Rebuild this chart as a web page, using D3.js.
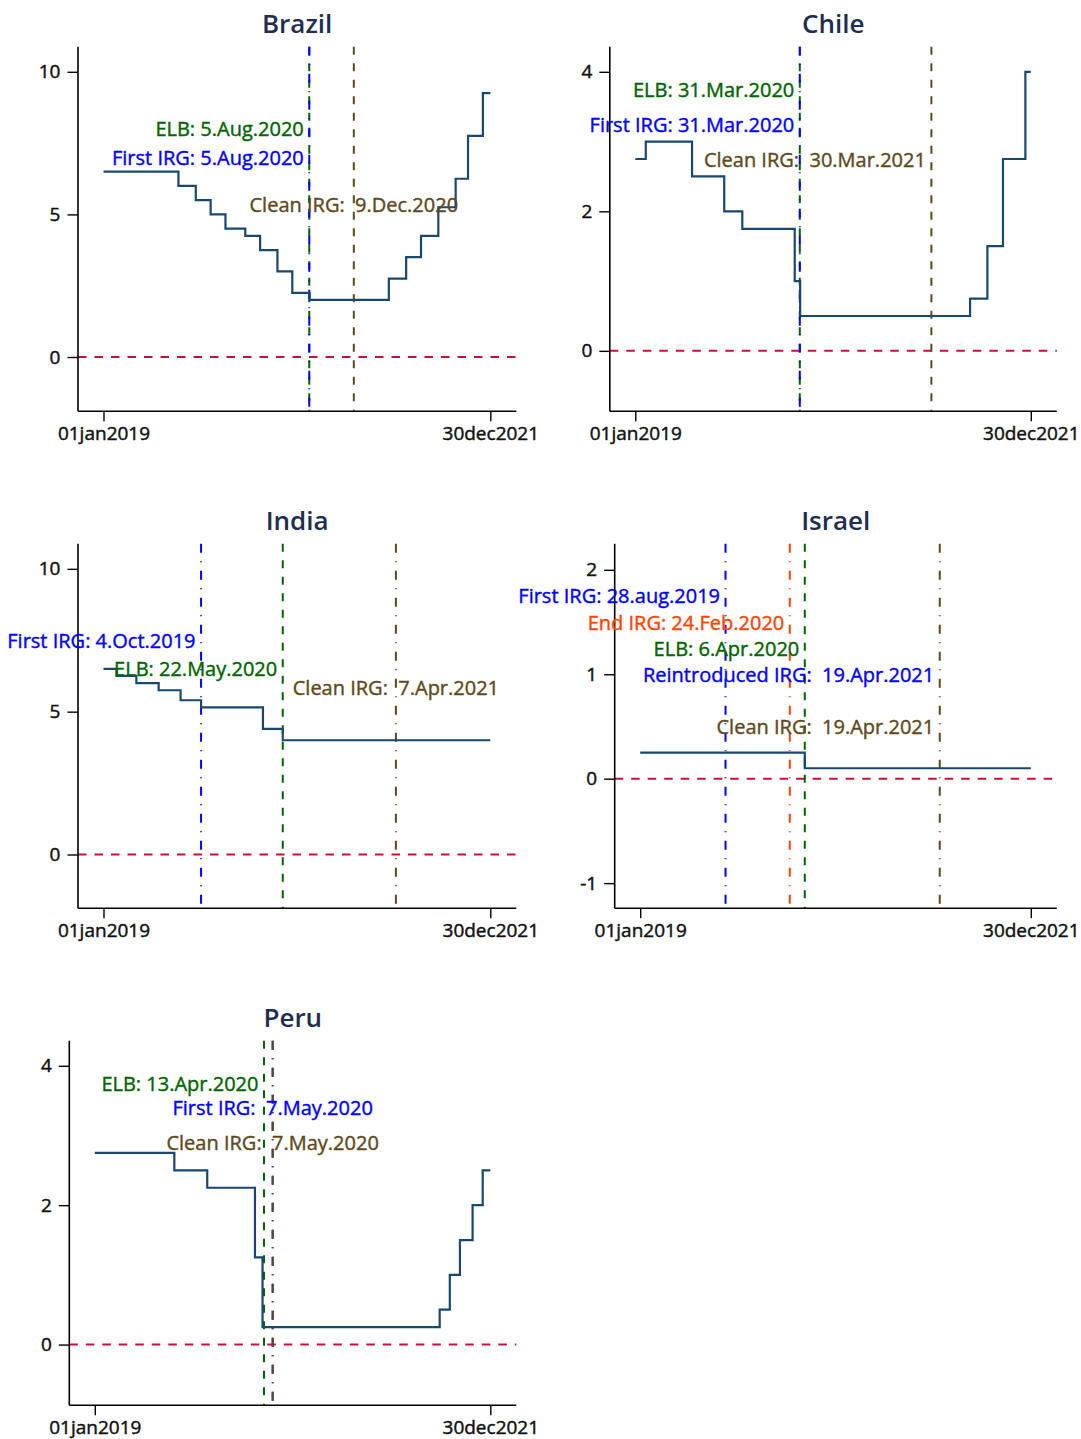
<!DOCTYPE html>
<html>
<head>
<meta charset="utf-8">
<script src="https://cdn.jsdelivr.net/npm/d3@7"></script>
<style>
  body { margin: 0; background: #ffffff; }
  svg { display: block; }
  text { font-family: 'Open Sans', sans-serif; }
</style>
</head>
<body>
<script>
// ---- data ----
const countries = ['Brazil', 'Chile', 'India', 'Israel', 'Peru'];
const xTickDates = ['2019-01-01', '2021-12-30'];
const xTickLabels = ['01jan2019', '30dec2021'];

// policy rates, one point per rate change (step series)
const brazilRate = [
  ['2019-01-01', 6.5], ['2019-08-01', 6.0], ['2019-09-19', 5.5], ['2019-10-31', 5.0],
  ['2019-12-12', 4.5], ['2020-02-06', 4.25], ['2020-03-19', 3.75], ['2020-05-07', 3.0],
  ['2020-06-18', 2.25], ['2020-08-06', 2.0], ['2021-03-18', 2.75], ['2021-05-06', 3.5],
  ['2021-06-17', 4.25], ['2021-08-05', 5.25], ['2021-09-23', 6.25], ['2021-10-28', 7.75],
  ['2021-12-09', 9.25], ['2021-12-30', 9.25],
];
const chileRate = [
  ['2019-01-01', 2.75], ['2019-01-30', 3.0], ['2019-06-07', 2.5], ['2019-09-04', 2.0],
  ['2019-10-24', 1.75], ['2020-03-17', 1.0], ['2020-04-01', 0.5], ['2021-07-15', 0.75],
  ['2021-09-01', 1.5], ['2021-10-14', 2.75], ['2021-12-15', 4.0], ['2021-12-30', 4.0],
];
const indiaRate = [
  ['2019-01-01', 6.5], ['2019-02-07', 6.25], ['2019-04-04', 6.0], ['2019-06-06', 5.75],
  ['2019-08-07', 5.4], ['2019-10-04', 5.15], ['2020-03-27', 4.4], ['2020-05-22', 4.0],
  ['2021-12-30', 4.0],
];
const israelRate = [
  ['2019-01-01', 0.25], ['2020-04-06', 0.1], ['2021-12-30', 0.1],
];
const peruRate = [
  ['2019-01-01', 2.75], ['2019-08-09', 2.5], ['2019-11-08', 2.25], ['2020-03-19', 1.25],
  ['2020-04-09', 0.25], ['2021-08-12', 0.5], ['2021-09-09', 1.0], ['2021-10-07', 1.5],
  ['2021-11-11', 2.0], ['2021-12-09', 2.5], ['2021-12-30', 2.5],
];

// y axes
const brazilYDomain = [-1.9, 10.88];
const chileYDomain = [-0.865, 4.36];
const indiaYDomain = [-1.88, 10.88];
const israelYDomain = [-1.24, 2.25];
const peruYDomain = [-0.87, 4.36];
const brazilYTicks = [0, 5, 10];
const chileYTicks = [0, 2, 4];
const indiaYTicks = [0, 5, 10];
const israelYTicks = [-1, 0, 1, 2];
const peruYTicks = [0, 2, 4];

// event dates (vertical lines) with their annotation text; y is in data units
const brazilEvents = [
  { kind: 'elb', date: '2020-08-05', text: 'ELB: 5.Aug.2020', y: 8, anchor: 'end' },
  { kind: 'first', date: '2020-08-05', text: 'First IRG: 5.Aug.2020', y: 7, anchor: 'end' },
  { kind: 'clean', date: '2020-12-09', text: 'Clean IRG:  9.Dec.2020', y: 5.35, anchor: 'middle' },
];
const chileEvents = [
  { kind: 'elb', date: '2020-03-31', text: 'ELB: 31.Mar.2020', y: 3.75, anchor: 'end' },
  { kind: 'first', date: '2020-03-31', text: 'First IRG: 31.Mar.2020', y: 3.25, anchor: 'end' },
  { kind: 'clean', date: '2021-03-30', text: 'Clean IRG:  30.Mar.2021', y: 2.75, anchor: 'end' },
];
const indiaEvents = [
  { kind: 'elb', date: '2020-05-22', text: 'ELB: 22.May.2020', y: 6.5, anchor: 'end' },
  { kind: 'first', date: '2019-10-04', text: 'First IRG: 4.Oct.2019', y: 7.5, anchor: 'end' },
  { kind: 'clean', date: '2021-04-07', text: 'Clean IRG:  7.Apr.2021', y: 5.85, anchor: 'middle' },
];
const israelEvents = [
  { kind: 'elb', date: '2020-04-06', text: 'ELB: 6.Apr.2020', y: 1.25, anchor: 'end' },
  { kind: 'first', date: '2019-08-28', text: 'First IRG: 28.aug.2019', y: 1.75, anchor: 'end' },
  { kind: 'end', date: '2020-02-24', text: 'End IRG: 24.Feb.2020', y: 1.5, anchor: 'end' },
  { kind: 'reintro', date: '2021-04-19', text: 'Reintroduced IRG:  19.Apr.2021', y: 1.0, anchor: 'end' },
  { kind: 'clean', date: '2021-04-19', text: 'Clean IRG:  19.Apr.2021', y: 0.5, anchor: 'end' },
];
const peruEvents = [
  { kind: 'elb', date: '2020-04-13', text: 'ELB: 13.Apr.2020', y: 3.75, anchor: 'end' },
  { kind: 'first', date: '2020-05-07', text: 'First IRG:  7.May.2020', y: 3.4, anchor: 'middle' },
  { kind: 'clean', date: '2020-05-07', text: 'Clean IRG:  7.May.2020', y: 2.9, anchor: 'middle' },
];

const rates = [brazilRate, chileRate, indiaRate, israelRate, peruRate];
const yDomains = [brazilYDomain, chileYDomain, indiaYDomain, israelYDomain, peruYDomain];
const yTicks = [brazilYTicks, chileYTicks, indiaYTicks, israelYTicks, peruYTicks];
const events = [brazilEvents, chileEvents, indiaEvents, israelEvents, peruEvents];

// ---- look ----
const W = 1081, H = 1439;
const cellW = 540.5;
const rowStep = 497;
const firstTop = 46.7;
const plotH = 364.5;
const rightEdge = 516.3;
const dateInsetL = 25.5, dateInsetR = 26;

const seriesColor = '#1a476f';
const zeroColor = '#c8103e';
const titleColor = '#1e2d52';
const dashDot = '9,8.5,1,8.5';
const dashed = '8,8.5';
const kindStyle = {
  elb: { color: '#006400', dash: dashed },
  first: { color: '#0000ff', dash: dashDot },
  reintro: { color: '#0000ff', dash: dashDot },
  end: { color: '#ff4500', dash: dashDot },
  clean: { color: '#5c4a1e', dash: dashDot },
};
const dashedClean = new Set(['Brazil', 'Chile']);
const drawOrder = ['elb', 'first', 'end', 'reintro', 'clean'];
const tickFont = '19px';

const parse = d3.utcParse('%Y-%m-%d');

const svg = d3.select('body')
  .append('svg')
  .attr('width', W)
  .attr('height', H)
  .attr('xmlns', 'http://www.w3.org/2000/svg');

// heavier text, closer to the original renderer
function thicken(sel, color, w) {
  sel.style('stroke', color).style('stroke-width', w).style('paint-order', 'stroke');
}

countries.forEach((name, i) => {
  const col = i % 2, row = Math.floor(i / 2);
  const cellX = col * cellW;
  const top = firstTop + row * rowStep;
  const bottom = top + plotH;
  const g = svg.append('g').attr('class', `panel ${name}`);

  // measure the widest y label to place the axis like Stata does
  const probe = g.append('g');
  const widths = yTicks[i].map(t => {
    const tx = probe.append('text').style('font-size', tickFont).text(String(t));
    return tx.node().getComputedTextLength();
  });
  probe.remove();
  const left = cellX + 60.6 + 0.8 * d3.max(widths);
  const right = cellX + rightEdge;

  const x = d3.scaleUtc()
    .domain([parse(xTickDates[0]), parse(xTickDates[1])])
    .range([left + dateInsetL, right - dateInsetR]);
  const y = d3.scaleLinear().domain(yDomains[i]).range([bottom, top]);

  // zero line
  g.append('line')
    .attr('x1', left).attr('x2', right)
    .attr('y1', y(0)).attr('y2', y(0))
    .style('stroke', zeroColor)
    .style('stroke-width', 2)
    .style('stroke-dasharray', '8.5,8');

  // event lines (the reintroduction line sits under the clean IRG line, so it is not drawn)
  const ev = events[i]
    .filter(d => d.kind !== 'reintro')
    .sort((a, b) => drawOrder.indexOf(a.kind) - drawOrder.indexOf(b.kind));
  g.selectAll('.event')
    .data(ev)
    .enter()
    .append('line')
    .attr('class', 'event')
    .attr('x1', d => x(parse(d.date))).attr('x2', d => x(parse(d.date)))
    .attr('y1', top).attr('y2', bottom)
    .style('stroke', d => kindStyle[d.kind].color)
    .style('stroke-width', 2)
    .style('stroke-dasharray', d =>
      d.kind === 'clean' && dashedClean.has(name) ? dashed : kindStyle[d.kind].dash);

  // rate series
  const line = d3.line()
    .x(d => x(parse(d[0])))
    .y(d => y(d[1]))
    .curve(d3.curveStepAfter);
  g.append('path')
    .datum(rates[i])
    .attr('d', line)
    .style('fill', 'none')
    .style('stroke', seriesColor)
    .style('stroke-width', 2.2);

  // axes
  const yAxis = g.append('g')
    .attr('transform', `translate(${left},0)`)
    .call(d3.axisLeft(y).tickValues(yTicks[i]).tickSize(10.5).tickPadding(7).tickFormat(d => String(d)));
  yAxis.select('.domain').attr('d', `M0,${top}V${bottom}`).style('stroke-width', 1.6);
  yAxis.selectAll('.tick line').style('stroke-width', 1.4);
  yAxis.selectAll('.tick text')
    .style('font-size', tickFont)
    .style('font-family', "'Open Sans', sans-serif")
    .attr('fill', '#111')
    .call(thicken, '#111', 0.45);

  const xAxis = g.append('g')
    .attr('transform', `translate(0,${bottom})`)
    .call(d3.axisBottom(x).tickValues(xTickDates.map(parse)).tickSize(10).tickPadding(4)
      .tickFormat((d, k) => xTickLabels[k]));
  xAxis.select('.domain').attr('d', `M${left},0H${right}`).style('stroke-width', 1.6);
  xAxis.selectAll('.tick line').style('stroke-width', 1.4);
  xAxis.selectAll('.tick text')
    .attr('y', 21.5)
    .attr('dy', null)
    .attr('dominant-baseline', 'central')
    .style('font-size', tickFont)
    .style('font-family', "'Open Sans', sans-serif")
    .attr('fill', '#111')
    .call(thicken, '#111', 0.45);

  // annotations
  g.selectAll('.note')
    .data(events[i])
    .enter()
    .append('text')
    .attr('class', 'note')
    .attr('x', d => x(parse(d.date)) + (d.anchor === 'end' ? -5.5 : 0))
    .attr('y', d => y(d.y))
    .attr('text-anchor', d => d.anchor)
    .attr('dominant-baseline', 'central')
    .style('white-space', 'pre')
    .style('font-size', '20px')
    .style('fill', d => kindStyle[d.kind].color)
    .style('stroke', d => kindStyle[d.kind].color)
    .style('stroke-width', 0.4)
    .style('paint-order', 'stroke')
    .text(d => d.text);

  // title
  g.append('text')
    .attr('x', (left + right) / 2)
    .attr('y', top - 23.4)
    .attr('text-anchor', 'middle')
    .attr('dominant-baseline', 'central')
    .style('font-size', '26px')
    .style('font-weight', 600)
    .style('fill', titleColor)
    .text(name);
});
</script>
</body>
</html>
